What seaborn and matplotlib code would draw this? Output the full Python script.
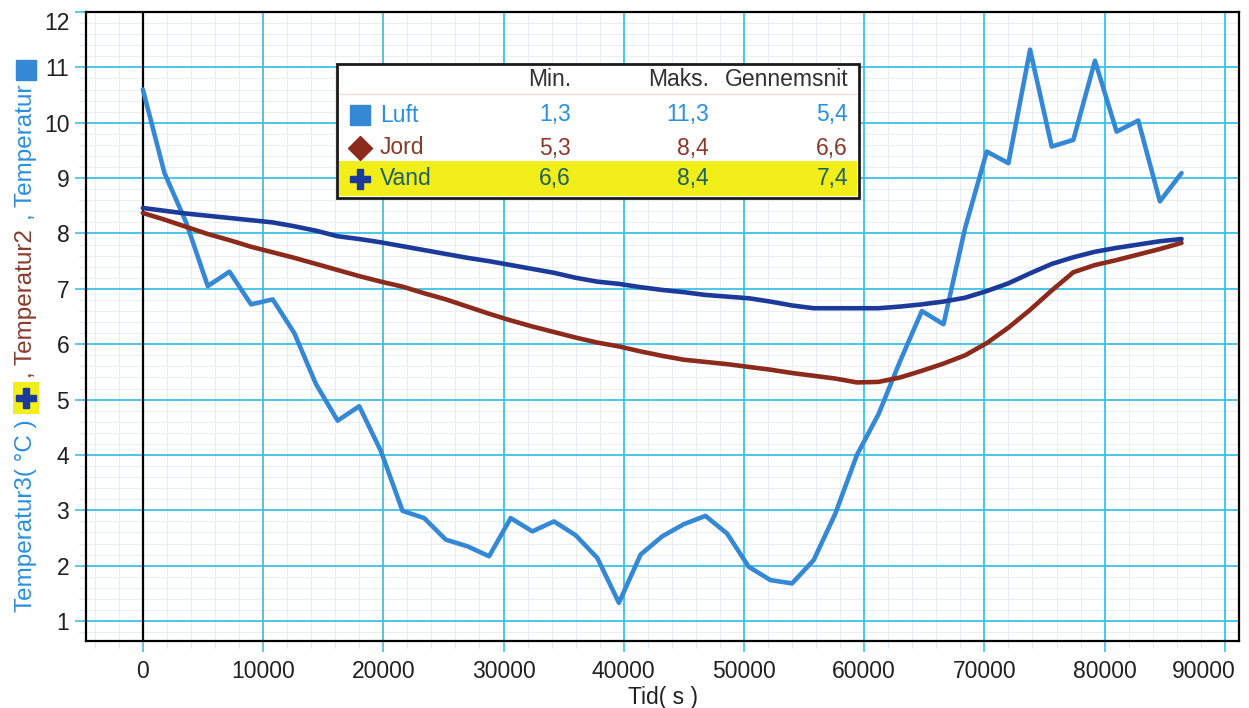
import matplotlib
matplotlib.use("Agg")
import matplotlib.pyplot as plt
import matplotlib.transforms as mtransforms
import numpy as np
import pandas as pd
import seaborn as sns
from matplotlib.patches import Rectangle
from matplotlib.lines import Line2D
from matplotlib.ticker import MultipleLocator, FuncFormatter

# ---------------- data ----------------
time_s = [0, 1800, 3600, 5400, 7200, 9000, 10800, 12600, 14400, 16200, 18000,
          19800, 21600, 23400, 25200, 27000, 28800, 30600, 32400, 34200, 36000,
          37800, 39600, 41400, 43200, 45000, 46800, 48600, 50400, 52200, 54000,
          55800, 57600, 59400, 61200, 63000, 64800, 66600, 68400, 70200, 72000,
          73800, 75600, 77400, 79200, 81000, 82800, 84600, 86400]

luft = [10.60, 9.09, 8.20, 7.05, 7.31, 6.72, 6.81, 6.20, 5.28, 4.62, 4.88,
        4.07, 2.99, 2.86, 2.47, 2.35, 2.17, 2.86, 2.62, 2.80, 2.55,
        2.14, 1.33, 2.20, 2.53, 2.75, 2.90, 2.58, 1.98, 1.74, 1.68,
        2.10, 2.94, 4.00, 4.74, 5.70, 6.60, 6.36, 8.10, 9.48, 9.27,
        11.32, 9.57, 9.69, 11.12, 9.84, 10.04, 8.58, 9.09]

jord = [8.37, 8.25, 8.12, 7.99, 7.88, 7.76, 7.66, 7.56, 7.45, 7.34, 7.23,
        7.13, 7.04, 6.92, 6.81, 6.68, 6.55, 6.43, 6.32, 6.22, 6.12,
        6.03, 5.96, 5.87, 5.79, 5.72, 5.68, 5.64, 5.59, 5.54, 5.48,
        5.43, 5.38, 5.31, 5.32, 5.40, 5.52, 5.65, 5.80, 6.02, 6.30,
        6.62, 6.97, 7.30, 7.43, 7.52, 7.62, 7.72, 7.83]

vand = [8.46, 8.41, 8.36, 8.32, 8.28, 8.24, 8.20, 8.13, 8.05, 7.95, 7.90,
        7.84, 7.77, 7.70, 7.63, 7.56, 7.50, 7.43, 7.36, 7.29, 7.20,
        7.13, 7.09, 7.03, 6.98, 6.94, 6.89, 6.86, 6.83, 6.77, 6.70,
        6.65, 6.65, 6.65, 6.65, 6.68, 6.72, 6.77, 6.84, 6.96, 7.10,
        7.28, 7.45, 7.57, 7.67, 7.74, 7.80, 7.86, 7.90]

series_names = ["Luft", "Jord", "Vand"]
stat_headers = ["Min.", "Maks.", "Gennemsnit"]
luft_stats = ["1,3", "11,3", "5,4"]
jord_stats = ["5,3", "8,4", "6,6"]
vand_stats = ["6,6", "8,4", "7,4"]

x_ticks = [0, 10000, 20000, 30000, 40000, 50000, 60000, 70000, 80000, 90000]
y_ticks = [1, 2, 3, 4, 5, 6, 7, 8, 9, 10, 11, 12]

# ---------------- style ----------------
sns.set_style("white")
plt.rcParams["font.family"] = ["Liberation Sans", "DejaVu Sans"]

W, H = 1249, 708
fig = plt.figure(figsize=(W / 100, H / 100), dpi=100)


def fx(px):
    return px / W


def fy(py):
    return 1 - py / H


line_colors = {"Luft": "#3589d4", "Jord": "#8c2a1c", "Vand": "#1c3a9a"}
text_colors = {"Luft": "#2a8fe0", "Jord": "#8a3a2a", "Vand": "#1f6060"}
grid_cyan = "#3cc2e6"
FS = 16.5

ax = fig.add_axes([fx(86), fy(641), fx(1239) - fx(86), fy(12) - fy(641)])

df = pd.DataFrame({
    "t": time_s * 3,
    "v": luft + jord + vand,
    "serie": ["Luft"] * len(luft) + ["Jord"] * len(jord) + ["Vand"] * len(vand),
})
sns.lineplot(data=df, x="t", y="v", hue="serie", hue_order=series_names,
             palette=line_colors, linewidth=3.3, estimator=None, sort=False,
             legend=False, ax=ax, zorder=3)

ax.set_xlim(-4730, 91180)
ax.set_ylim(0.64, 12.0)
ax.set_xticks(x_ticks)
ax.set_yticks(y_ticks)
ax.xaxis.set_minor_locator(MultipleLocator(2000))
ax.yaxis.set_minor_locator(MultipleLocator(0.2))
ax.xaxis.set_major_formatter(FuncFormatter(lambda v, p: f"{int(v)}"))

# faint minor grid underneath, cyan major grid drawn on top of it
ax.grid(which="minor", color="#e9eef3", lw=0.8)
ax.grid(which="major", visible=False)
ax.set_axisbelow(True)
for xv in x_ticks:
    ax.axvline(xv, color=grid_cyan, lw=1.3, zorder=1)
for yv in y_ticks:
    ax.axhline(yv, color=grid_cyan, lw=1.3, zorder=1)
ax.axvline(0, color="black", lw=1.6, zorder=2)

for sp in ax.spines.values():
    sp.set_color("black")
    sp.set_linewidth(1.6)
    sp.set_visible(True)

ax.tick_params(axis="both", which="major", direction="out", color=grid_cyan,
               length=8, width=1.2, labelsize=FS, labelcolor="#202020")
ax.tick_params(axis="both", which="minor", direction="out", color="#dfe8ee",
               length=5, width=0.8)
ax.tick_params(axis="x", which="major", pad=6)
ax.tick_params(axis="y", which="major", pad=4)
ax.tick_params(left=True, bottom=True, which="both")

ax.set_xlabel("Tid( s )", fontsize=FS, color="#202020", labelpad=2)
ax.set_ylabel("")

fig.canvas.draw()
ylabels = ax.get_yticklabels()
ylabels[-1].set_va("top")
xlabels = ax.get_xticklabels()
xlabels[-1].set_ha("right")
xlabels[-1].set_transform(xlabels[-1].get_transform() +
                          mtransforms.ScaledTranslation(11 / 100, 0, fig.dpi_scale_trans))

# ---------------- y label built from coloured pieces ----------------
lab_x = fx(26)
YFS = 17.5


def put_text(s, color, bottom_px):
    fig.text(lab_x, fy(bottom_px), s, rotation=90, ha="center", va="bottom",
             fontsize=YFS, color=color)


put_text("Temperatur3( °C )", text_colors["Luft"], 612)
fig.patches.append(Rectangle((fx(13), fy(414)), fx(26), 32 / H,
                             transform=fig.transFigure, facecolor="#f2ee1a",
                             edgecolor="none", zorder=2))
fig.lines.append(Line2D([fx(26)], [fy(398)], marker="P",
                        markersize=15, color=line_colors["Vand"],
                        transform=fig.transFigure, zorder=3))
put_text(", Temperatur2", text_colors["Jord"], 378)
put_text(", Temperatur", text_colors["Luft"], 220)
fig.lines.append(Line2D([fx(26)], [fy(70)], marker="s", markersize=14,
                        color=line_colors["Luft"], transform=fig.transFigure,
                        zorder=3))

# ---------------- statistics table (legend) ----------------
bx0, bx1, by0, by1 = 337, 859, 64, 198
fig.patches.append(Rectangle((fx(bx0), fy(by1)), fx(bx1) - fx(bx0), fy(by0) - fy(by1),
                             transform=fig.transFigure, facecolor="white",
                             edgecolor="none", zorder=5))
fig.patches.append(Rectangle((fx(bx0 + 2), fy(196)), fx(bx1 - 2) - fx(bx0 + 2),
                             fy(161) - fy(196), transform=fig.transFigure,
                             facecolor="#f2ee1a", edgecolor="none", zorder=6))
fig.lines.append(Line2D([fx(bx0 + 2), fx(bx1 - 2)], [fy(94), fy(94)],
                        color="#f1dcd8", lw=1, transform=fig.transFigure, zorder=6))
fig.patches.append(Rectangle((fx(bx0), fy(by1)), fx(bx1) - fx(bx0), fy(by0) - fy(by1),
                             transform=fig.transFigure, facecolor="none",
                             edgecolor="#1a1a1a", lw=2, zorder=9))

col_right = [571, 709, 848]
header_y = 80
for h, xr in zip(stat_headers, col_right):
    fig.text(fx(xr), fy(header_y), h, ha="right", va="center", fontsize=FS,
             color="#303030", zorder=10)

row_y = [115, 148, 179]
row_markers = {"Luft": "s", "Jord": "D", "Vand": "P"}
row_msize = {"Luft": 15, "Jord": 12, "Vand": 14}
row_stats = [luft_stats, jord_stats, vand_stats]
for name, yy, stats in zip(series_names, row_y, row_stats):
    fig.lines.append(Line2D([fx(360)], [fy(yy)], marker=row_markers[name],
                            markersize=row_msize[name], color=line_colors[name],
                            transform=fig.transFigure, zorder=10))
    fig.text(fx(380), fy(yy), name, ha="left", va="center", fontsize=FS,
             color=text_colors[name], zorder=10)
    for s, xr in zip(stats, col_right):
        fig.text(fx(xr), fy(yy), s, ha="right", va="center", fontsize=FS,
                 color=text_colors[name], zorder=10)

fig.savefig("out.png", dpi=100)
